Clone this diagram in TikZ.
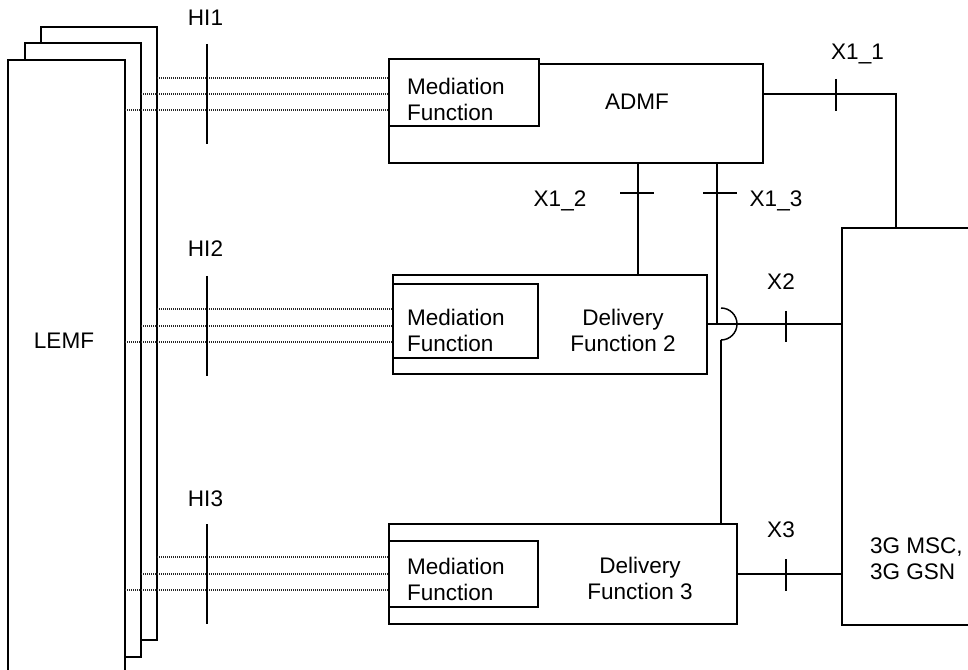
\documentclass[tikz,border=0pt]{standalone}
\usepackage{fontspec}
\setmainfont{Liberation Sans}
\newlength\pxu
\setlength\pxu{0.75pt}
\begin{document}
\begin{tikzpicture}[x=0.75pt,y=-0.75pt,
  box/.style={draw, line width=1.1pt, fill=white, anchor=north west, inner sep=0pt, outer sep=0pt},
  conn/.style={line width=1.1pt},
  thinconn/.style={line width=0.8pt},
  tickmark/.style={line width=1.5pt},
  hiline/.style={line width=0.8pt, black!85, dash pattern=on 0.8pt off 0.7pt},
  lbl/.style={font=\fontsize{16.9}{19.5}\selectfont, inner sep=0pt, outer sep=0pt},
  ml/.style={lbl, align=left, anchor=west},
  mc/.style={lbl, align=center, anchor=center}]
\useasboundingbox (0,0) rectangle (968,670);
\fill[white] (0,0) rectangle (968,670);
% LEMF stack
\node[box, minimum width={116\pxu}, minimum height={613\pxu}] (page3) at (41,27) {};
\node[box, minimum width={116\pxu}, minimum height={614\pxu}] (page2) at (25,43) {};
\node[box, minimum width={117\pxu}, minimum height={620\pxu}] (page1) at (8,60) {};
\node[lbl, anchor=base] (lemf) at (64,349) {LEMF};
% ADMF
\node[box, minimum width={374\pxu}, minimum height={99\pxu}] (admf) at (389,64) {};
\node[box, minimum width={150\pxu}, minimum height={67\pxu}] (medA) at (389,59) {};
\node[ml] (medAt) at (407,99) {Mediation\\Function};
\node[lbl, anchor=base] (admft) at (637,109.3) {ADMF};
% Delivery Function 2
\node[box, minimum width={314\pxu}, minimum height={99\pxu}] (df2) at (393,275) {};
\node[box, minimum width={145\pxu}, minimum height={74\pxu}] (medB) at (393,284) {};
\node[ml] (medBt) at (407,330.6) {Mediation\\Function};
\node[mc] (df2t) at (623,330.5) {Delivery\\Function 2};
% Delivery Function 3
\node[box, minimum width={348\pxu}, minimum height={100\pxu}] (df3) at (389,524) {};
\node[box, minimum width={149\pxu}, minimum height={66\pxu}] (medC) at (389,541) {};
\node[ml] (medCt) at (407,579.4) {Mediation\\Function};
\node[mc] (df3t) at (640,578.5) {Delivery\\Function 3};
% 3G MSC / GSN
\node[box, minimum width={160\pxu}, minimum height={397\pxu}] (gsn) at (842,228) {};
\node[ml] (gsnt) at (870,558.4) {3G MSC,\\3G GSN};
% HI dotted lines
\foreach \yy/\pg in {78/page3,94/page2,110/page1}
  \draw[hiline] (\pg.east |- 0,\yy) -- (medA.west |- 0,\yy);
\foreach \yy/\pg in {309/page3,326/page2,342/page1}
  \draw[hiline] (\pg.east |- 0,\yy) -- (medB.west |- 0,\yy);
\foreach \yy/\pg in {557/page3,574/page2,590/page1}
  \draw[hiline] (\pg.east |- 0,\yy) -- (medC.west |- 0,\yy);
% HI ticks and labels
\draw[tickmark] (207,44) -- (207,144);
\draw[tickmark] (207,276) -- (207,376);
\draw[tickmark] (207,524) -- (207,624);
\node[lbl, anchor=base] (hi1) at (205.5,26) {HI1};
\node[lbl, anchor=base] (hi2) at (205.5,257) {HI2};
\node[lbl, anchor=base] (hi3) at (205.5,506) {HI3};
% X1_1
\draw[conn] (admf.east |- 0,94) -- (896,94) -- (gsn.north -| 896,0);
\draw[tickmark] (836,79) -- (836,111);
\node[lbl, anchor=base] (x11) at (857.5,59.3) {X1\_1};
% X1_2
\draw[thinconn] (admf.south -| 638,0) -- (df2.north -| 638,0);
\draw[tickmark] (620,193) -- (654,193);
\node[lbl, anchor=base] (x12) at (560,206.7) {X1\_2};
% X1_3 with hop over X2
\draw[thinconn] (admf.south -| 717,0) -- (717,324);
\draw[tickmark] (703,193) -- (737,193);
\node[lbl, anchor=base] (x13) at (776,206.7) {X1\_3};
\draw[conn] (721,308) arc[start angle=-90, end angle=90, radius=16];
\draw[conn] (721,340) -- (df3.north -| 721,0);
% X2
\draw[conn] (df2.east |- 0,324) -- (gsn.west |- 0,324);
\draw[tickmark] (786,311) -- (786,342);
\node[lbl, anchor=base] (x2) at (781,290) {X2};
% X3
\draw[conn] (df3.east) -- (gsn.west |- df3.east);
\draw[tickmark] (786,559) -- (786,591);
\node[lbl, anchor=base] (x3) at (781,537.7) {X3};
\end{tikzpicture}
\end{document}
